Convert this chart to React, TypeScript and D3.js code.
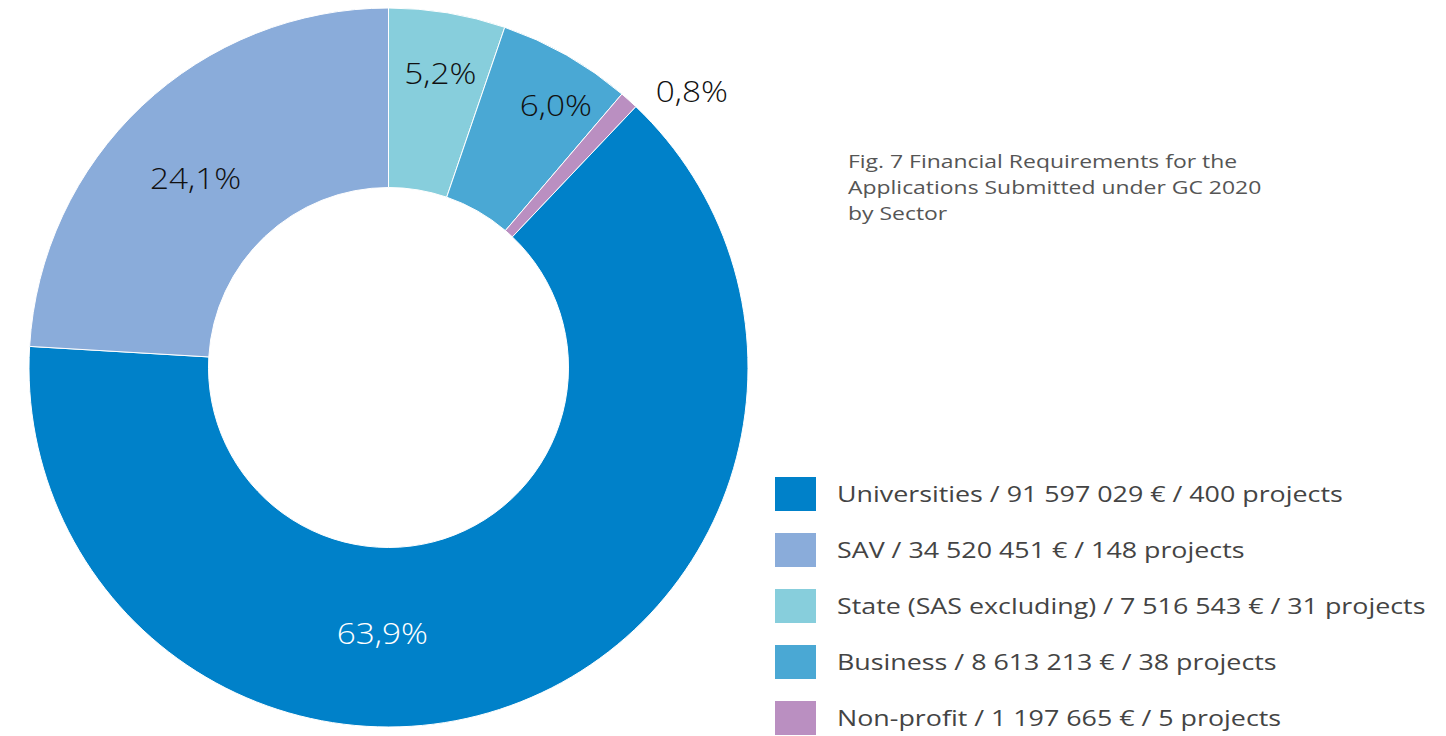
import React from 'react';
import * as d3 from 'd3';

// sectors in drawing order (clockwise from 12 o'clock)
const sectors = ['State', 'Business', 'Non-profit', 'Universities', 'SAV'];
const amounts = [7516543, 8613213, 1197665, 91597029, 34520451];
const projects = [31, 38, 5, 400, 148];
const legendNames = ['State (SAS excluding)', 'Business', 'Non-profit', 'Universities', 'SAV'];
const percentLabels = ['5,2%', '6,0%', '0,8%', '63,9%', '24,1%'];
const legendOrder = ['Universities', 'SAV', 'State', 'Business', 'Non-profit'];
const titleLines = ['Fig. 7 Financial Requirements for the', 'Applications Submitted under GC 2020', 'by Sector'];

const colors: Record<string, string> = {
    'Universities': '#0081c9',
    'SAV': '#8aacda',
    'State': '#87cedc',
    'Business': '#4aa8d4',
    'Non-profit': '#ba8fc1',
};

// label placement: radius + angle shift (rad) from slice middle
const labelPlace: Record<string, [number, number]> = {
    'State': [298, 0.01],
    'Business': [311, 0.05],
    'Non-profit': [410, 0.1],
    'Universities': [266, 0.4],
    'SAV': [270, -0.04],
};

const W = 1446, H = 736;
const cx = 388.5, cy = 367.5;
const outerR = 359.5, innerR = 180;
const font = "'Open Sans', sans-serif";
// the original face is a wide geometric sans, so Open Sans gets stretched sideways
const stretchLabel = 1.15, stretchTitle = 1.24, stretchLegend = 1.22;

const fmt = (v: number) => d3.format(',')(v).replace(/,/g, ' ');

export default function App() {
    const pie = d3.pie<number>().sort(null).value(d => d);
    const arcs = pie(amounts);
    const arc = d3.arc<d3.PieArcDatum<number>>().innerRadius(innerR).outerRadius(outerR);

    const legendY = d3.scalePoint<string>().domain(legendOrder).range([494, 718]);

    return (
        <svg width={W} height={H} style={{ position: 'absolute', left: 0, top: 0, background: '#fff' }}>
            <g transform={`translate(${cx},${cy})`}>
                {arcs.map((a, i) => (
                    <path key={sectors[i]} d={arc(a) || ''} fill={colors[sectors[i]]} stroke="#fff" strokeWidth={1} />
                ))}
                {arcs.map((a, i) => {
                    const [r, shift] = labelPlace[sectors[i]];
                    const ang = (a.startAngle + a.endAngle) / 2 + shift;
                    const x = r * Math.sin(ang), y = -r * Math.cos(ang);
                    return (
                        <text key={'l' + i} transform={`translate(${x},${y}) scale(${stretchLabel},1)`} dy="0.36em"
                            textAnchor="middle" fontFamily={font} fontSize={29} fontWeight={300}
                            fill={sectors[i] === 'Universities' ? '#fff' : '#111'}>
                            {percentLabels[i]}
                        </text>
                    );
                })}
            </g>
            <g fontFamily={font} fontSize={18.5} fill="#555">
                {titleLines.map((t, i) => (
                    <text key={t} transform={`translate(848,${168 + i * 26}) scale(${stretchTitle},1)`}>{t}</text>
                ))}
            </g>
            <g fontFamily={font} fontSize={22} fill="#444">
                {legendOrder.map(s => {
                    const i = sectors.indexOf(s);
                    const y = legendY(s) as number;
                    return (
                        <g key={s}>
                            <rect x={775} y={y - 17} width={41} height={34} fill={colors[s]} />
                            <text transform={`translate(837,${y}) scale(${stretchLegend},1)`} dy="0.36em">
                                {`${legendNames[i]} / ${fmt(amounts[i])} € / ${projects[i]} projects`}
                            </text>
                        </g>
                    );
                })}
            </g>
        </svg>
    );
}
